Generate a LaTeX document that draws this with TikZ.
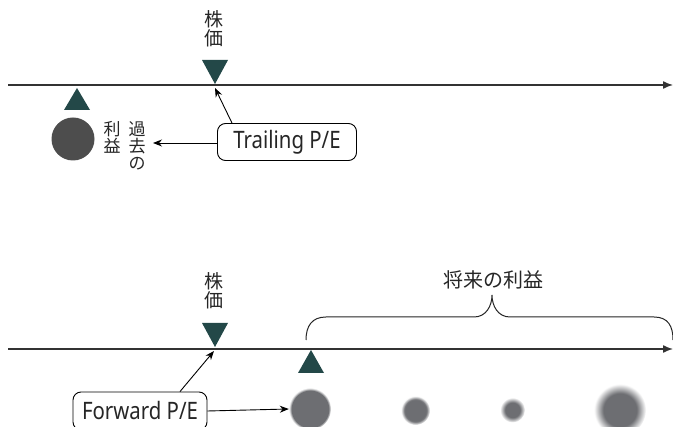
\documentclass[tikz,border=0pt]{standalone}
\usepackage{fontspec}
\newfontfamily\jp{Noto Sans CJK JP}
\newfontfamily\lat[FakeStretch=0.85]{Noto Sans}
\usetikzlibrary{arrows.meta,calc}
\definecolor{tri}{HTML}{234848}
\definecolor{dotdark}{HTML}{4D4D4D}
\definecolor{dotgray}{HTML}{6D6E72}
\definecolor{axis}{HTML}{333333}
\pgfdeclareradialshading{blurA}{\pgfpoint{0bp}{0bp}}{color(0bp)=(dotgray); color(22bp)=(dotgray); color(25bp)=(white); color(50bp)=(white)}
\pgfdeclareradialshading{blurB}{\pgfpoint{0bp}{0bp}}{color(0bp)=(dotgray); color(19bp)=(dotgray); color(25bp)=(white); color(50bp)=(white)}
\pgfdeclareradialshading{blurC}{\pgfpoint{0bp}{0bp}}{color(0bp)=(dotgray); color(15bp)=(dotgray); color(25bp)=(white); color(50bp)=(white)}
\pgfdeclareradialshading{blurD}{\pgfpoint{0bp}{0bp}}{color(0bp)=(dotgray); color(16bp)=(dotgray); color(25bp)=(white); color(50bp)=(white)}
\tikzset{
  axisline/.style={draw=axis, line width=1.4pt, -{Latex[length=10pt,width=8pt]}},
  conn/.style={draw=black, line width=0.9pt, -{Stealth[length=9pt,width=7pt]}},
  pebox/.style={draw=black, line width=0.9pt, rounded corners=8pt, inner sep=0pt,
    font=\lat\fontsize{24}{24}\selectfont, text=black!85},
  jpv/.style={align=center, inner sep=0pt, font=\jp\fontsize{17}{17}\selectfont, text=black!85},
  jph/.style={align=center, inner sep=0pt, font=\jp\fontsize{19}{19.5}\selectfont, text=black!85},
  dot/.style={circle, inner sep=0pt, shade},
}
\begin{document}
\begin{tikzpicture}[x=1pt,y=-1pt]
\useasboundingbox[fill=white] (0,0) rectangle (673,427);

% ---------- top ----------
\coordinate (ax1s) at (8,85);
\coordinate (ax1e) at (673,85);
\draw[axisline] (ax1s) -- (ax1e);

\fill[tri] (202,60) -- (228,60) -- (215,84) -- cycle;
\coordinate (tip1) at (215,88);
\node[jph] (price1) at (214,29) {株\\価};

\fill[tri] (64,110) -- (90,110) -- (77,88) -- cycle;
\node[circle, inner sep=0pt, minimum size=43pt, fill=dotdark] (past) at (73,139) {};

\node[jpv, anchor=north] (rieki1) at (112,121) {利\\益};
\node[jpv, anchor=north] (kako) at (137,121) {過\\去\\の};
\coordinate (pastend) at (153,143);

\node[pebox, minimum width=139pt, minimum height=37pt] (trail) at (287,142) {Trailing P/E};
\draw[conn] ([xshift=-55pt]trail.north) -- (tip1);
\draw[conn] (trail.west |- pastend) -- (pastend);

% ---------- bottom ----------
\coordinate (ax2s) at (8,349);
\coordinate (ax2e) at (673,349);
\draw[axisline] (ax2s) -- (ax2e);

\fill[tri] (202,323) -- (228,323) -- (215,347) -- cycle;
\coordinate (tip2) at (214,351);
\node[jph] (price2) at (214,291) {株\\価};

\fill[tri] (298,373) -- (324,373) -- (311,350) -- cycle;

\node[dot, shading=blurA, minimum size=42pt] (f1) at (310,409) {};
\node[dot, shading=blurB, minimum size=29pt] (f2) at (415.5,410.5) {};
\node[dot, shading=blurC, minimum size=25pt] (f3) at (512.5,410) {};
\node[dot, shading=blurD, minimum size=52pt] (f4) at (620,410) {};

\node[pebox, minimum width=134pt, minimum height=38pt] (fwd) at (140,411) {Forward P/E};
\draw[conn] ([xshift=40pt]fwd.north) -- (tip2);
\draw[conn] (fwd.east) -- (f1.west);

% brace
\draw[line width=1pt, black!85] (306,340) .. controls (306,326) and (312,317) .. (326,317)
  -- (474,317) .. controls (486,317) and (492,306) .. (492,295)
  .. controls (492,306) and (498,317) .. (510,317)
  -- (654,317) .. controls (668,317) and (673,326) .. (673,340);
\node[jph, font=\jp\fontsize{20}{20}\selectfont] (future) at (493,280) {将来の利益};
\end{tikzpicture}
\end{document}
